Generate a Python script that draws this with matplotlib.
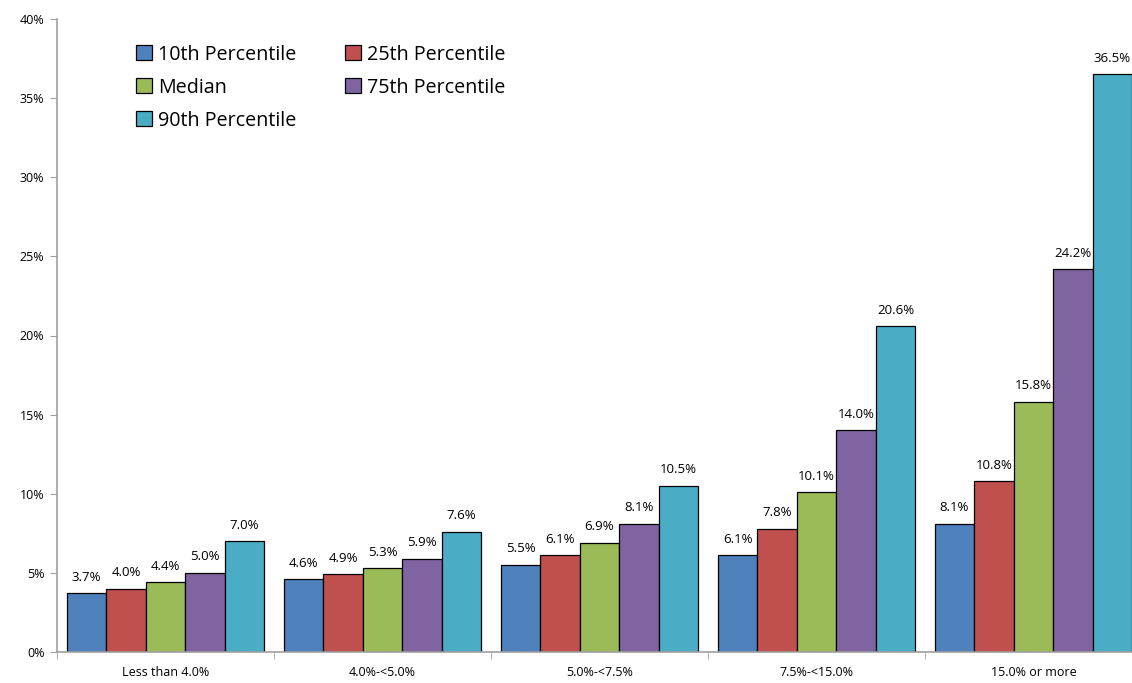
import matplotlib.pyplot as plt
import numpy as np
from matplotlib.ticker import FixedLocator, PercentFormatter

categories = ['Less than 4.0%', '4.0%-<5.0%', '5.0%-<7.5%', '7.5%-<15.0%', '15.0% or more']
series_names = ['10th Percentile', '25th Percentile', 'Median', '75th Percentile', '90th Percentile']
p10 = [3.7, 4.6, 5.5, 6.1, 8.1]
p25 = [4.0, 4.9, 6.1, 7.8, 10.8]
median = [4.4, 5.3, 6.9, 10.1, 15.8]
p75 = [5.0, 5.9, 8.1, 14.0, 24.2]
p90 = [7.0, 7.6, 10.5, 20.6, 36.5]
colors = ['#4F81BD', '#C0504D', '#9BBB59', '#8064A2', '#4BACC6']

plt.rcParams['font.family'] = ['Open Sans', 'DejaVu Sans']

fig = plt.figure(figsize=(11.32, 6.83), dpi=100)
ax = fig.add_axes([57 / 1132, 1 - 652 / 683, (1142 - 57) / 1132, (652 - 19) / 683])

x = np.arange(len(categories))
bw = 0.182
all_series = [p10, p25, median, p75, p90]
handles = []
for i, (vals, name) in enumerate(zip(all_series, series_names)):
    pos = x - 2 * bw + i * bw
    bars = ax.bar(pos, vals, bw, color=colors[i], edgecolor='black', linewidth=0.9, label=name)
    handles.append(bars)
    for b, v in zip(bars, vals):
        ax.text(b.get_x() + b.get_width() / 2, v + 0.6, f'{v:.1f}%', ha='center', va='bottom',
                fontsize=9.5, color='black')

ax.set_xlim(-0.5, len(categories) - 0.5)
ax.set_ylim(0, 40)
ax.set_yticks(np.arange(0, 41, 5))
ax.yaxis.set_major_formatter(PercentFormatter(decimals=0))
ax.set_xticks(x)
ax.set_xticklabels(categories)
ax.xaxis.set_minor_locator(FixedLocator(np.arange(-0.5, len(categories), 1)))
ax.tick_params(axis='x', which='major', length=0, labelsize=9, pad=10)
ax.tick_params(axis='x', which='minor', length=5, color='#A0A0A0', direction='out')
ax.tick_params(axis='y', length=5, color='#A0A0A0', labelsize=9, pad=4)

for s in ['top', 'right']:
    ax.spines[s].set_visible(False)
for s in ['left', 'bottom']:
    ax.spines[s].set_color('#A0A0A0')
    ax.spines[s].set_linewidth(1.2)

# legend reads row by row, matplotlib fills columns, so reorder
order = [0, 2, 4, 1, 3]
ax.legend([handles[k] for k in order], [series_names[k] for k in order],
          loc='upper left', bbox_to_anchor=(0.066, 0.972), ncol=2, frameon=False,
          fontsize=14.2, handlelength=0.8, handleheight=0.8, handletextpad=0.3,
          columnspacing=2.45, labelspacing=0.66, borderaxespad=0)

fig.savefig('out.png', dpi=100)
